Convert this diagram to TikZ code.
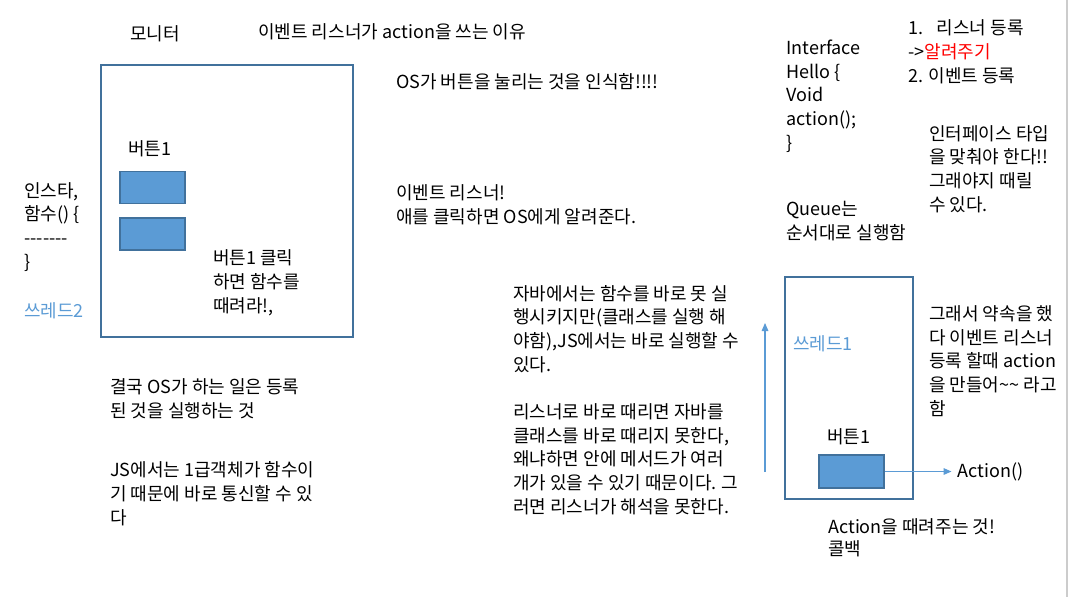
\documentclass[tikz,border=0pt]{standalone}
\usepackage{fontspec}
\setmainfont{Noto Sans CJK KR}
\usetikzlibrary{arrows.meta}
\definecolor{frameblue}{HTML}{41719C}
\definecolor{btnblue}{HTML}{5B9BD5}
\definecolor{threadblue}{HTML}{5B9BD5}

\begin{document}
\begin{tikzpicture}[
  x=0.75pt, y=-0.75pt,
  note/.style={anchor=base west, inner sep=0, align=left, font=\fontsize{13.5}{17.75}\selectfont},
  thread/.style={note, text=threadblue},
  frame/.style={draw=frameblue, line width=0.8pt, inner sep=0},
  btn/.style={frame, fill=btnblue, minimum width=48.75pt, minimum height=23.5pt},
  link/.style={draw=btnblue, line width=0.8pt, -{Triangle[length=6pt, width=5pt]}}
]
\useasboundingbox (0,0) rectangle (1069,597);
\draw[black!20, line width=1pt] (1067,0) -- (1067,597);

% monitor side (notes sit on the baseline of their last line)
\node[note, anchor=base] (monTitle) at (155,40) {모니터};
\node[note] (topic) at (258,38) {이벤트 리스너가 action을 쓰는 이유};
\node[frame, minimum width=189pt, minimum height=204pt] (monitor) at (227,201) {};
\node[note] (monBtnLabel) at (128,155) {버튼1};
\node[btn] (monBtnA) at (152.5,187.5) {};
\node[btn, minimum height=24pt] (monBtnB) at (152.5,234) {};
\node[note] (clickNote) at (213,312) {버튼1 클릭\\하면 함수를\\때려라!,};
\node[note] (funcCode) at (24,268) {인스타,\\함수() \{\\-{}-{}-{}-{}-{}-{}-\\\}};
\node[thread] (thread2) at (24,317) {쓰레드2};
\node[note] (osJob) at (110,417) {결국 OS가 하는 일은 등록\\된 것을 실행하는 것};
\node[note] (jsNote) at (110,524) {JS에서는 1급객체가 함수이\\기 때문에 바로 통신할 수 있\\다};

% middle notes
\node[note] (osSees) at (396,88) {OS가 버튼을 눌리는 것을 인식함!!!!};
\node[note] (listener) at (396,223) {이벤트 리스너!\\애를 클릭하면 OS에게 알려준다.};
\node[note] (javaNote) at (513,513) {자바에서는 함수를 바로 못 실\\행시키지만(클래스를 실행 해\\야함),JS에서는 바로 실행할 수\\있다.\\[17.75pt]리스너로 바로 때리면 자바를\\클래스를 바로 때리지 못한다,\\왜냐하면 안에 메서드가 여러\\개가 있을 수 있기 때문이다. 그\\러면 리스너가 해석을 못한다.};
\coordinate (upFrom) at (765,472);
\coordinate (upTo) at (765,323);
\draw[link] (upFrom) -- (upTo);

% right side
\node[note] (iface) at (786,149) {Interface\\Hello \{\\Void\\action();\\\}};
\node[note] (queue) at (786,239) {Queue는\\순서대로 실행함};
\node[note] (steps) at (908,82) {1.\hspace{0.75em}리스너 등록\\->\textcolor{red}{알려주기}\\2. 이벤트 등록};
\node[note] (ifaceType) at (929,211) {인터페이스 타입\\을 맞춰야 한다!!\\그래야지 때릴\\수 있다.};
\node[frame, minimum width=96pt, minimum height=166.5pt] (thread1Box) at (849,388) {};
\node[thread] (thread1) at (793,350) {쓰레드1};
\node[note] (t1BtnLabel) at (827,443) {버튼1};
\node[btn, minimum height=24.75pt] (t1Btn) at (851.5,471.5) {};
\node[note, anchor=west, inner xsep=4.5pt] (action) at (951.5,471.5) {Action()};
\draw[link] (t1Btn) -- (action);
\node[note] (promise) at (929,415) {그래서 약속을 했\\다 이벤트 리스너\\등록 할때 action\\을 만들어\textasciitilde\textasciitilde{} 라고\\함};
\node[note, font=\fontsize{13.5}{16}\selectfont] (callback) at (828,555) {Action을 때려주는 것!\\콜백};
\end{tikzpicture}
\end{document}
